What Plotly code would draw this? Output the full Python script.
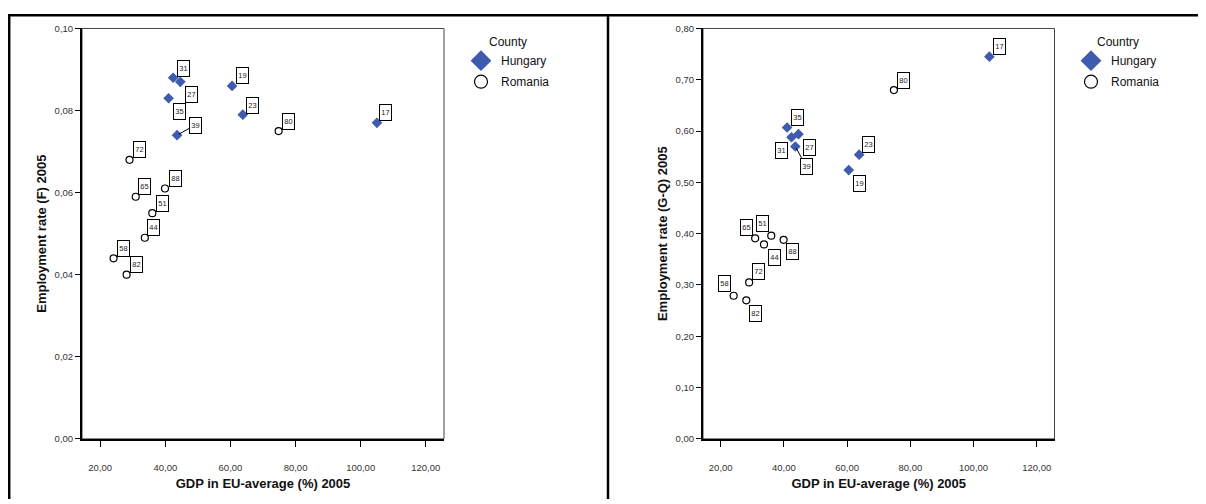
import plotly.graph_objects as go

# ---------------- data ----------------
hu_ids = ["31", "27", "35", "39", "19", "23", "17"]
hu_gdp = [42.4, 44.6, 41.0, 43.6, 60.5, 63.8, 105.0]
hu_emp_f = [0.088, 0.087, 0.083, 0.074, 0.086, 0.079, 0.077]
hu_emp_gq = [0.588, 0.594, 0.607, 0.570, 0.524, 0.554, 0.745]

ro_ids = ["80", "72", "65", "88", "51", "44", "58", "82"]
ro_gdp = [74.8, 29.0, 30.9, 39.9, 36.0, 33.7, 24.1, 28.1]
ro_emp_f = [0.075, 0.068, 0.059, 0.061, 0.055, 0.049, 0.044, 0.040]
ro_emp_gq = [0.680, 0.305, 0.391, 0.388, 0.396, 0.379, 0.279, 0.270]

x_ticks = [20, 40, 60, 80, 100, 120]
left_y_ticks = [0.0, 0.02, 0.04, 0.06, 0.08, 0.10]
right_y_ticks = [0.0, 0.1, 0.2, 0.3, 0.4, 0.5, 0.6, 0.7, 0.8]

x_title = "GDP in EU-average (%) 2005"
left_y_title = "Employment rate (F) 2005"
right_y_title = "Employment rate (G-Q) 2005"
left_legend_title = "County"
right_legend_title = "Country"
series_names = ["Hungary", "Romania"]

# ---------------- styles ----------------
HU_COLOR = "#3E5BB0"
FONT = "Liberation Sans, Arial, sans-serif"
OFF = 8  # page body margin of the browser

# label box offsets in pixels (dx right, dy down), flag for leader line
left_offsets = {
    "31": (10, -9, False), "27": (11, 13, False), "35": (11, 13, False),
    "39": (18, -10, True), "19": (10, -10, False), "23": (10, -9, False),
    "17": (9, -10, False), "80": (10, -10, False), "72": (10, -10, False),
    "65": (9, -10, False), "88": (10, -10, False), "51": (10, -10, False),
    "44": (9, -10, False), "58": (10, -10, False), "82": (10, -10, False),
}
right_offsets = {
    "17": (10, -10, False), "80": (10, -10, False), "35": (10, -10, False),
    "31": (-10, 13, False), "27": (11, 13, False), "39": (11, 20, True),
    "23": (9, -10, False), "19": (11, 13, False), "65": (-9, -11, False),
    "51": (-9, -12, False), "44": (10, 13, False), "88": (9, 12, False),
    "72": (9, -11, False), "58": (-9, -12, False), "82": (9, 13, False),
}

fig = go.Figure()

def add_panel(xa, ya, hu_y, ro_y, legend_name):
    fig.add_trace(go.Scatter(
        x=hu_gdp, y=hu_y, mode="markers", xaxis=xa, yaxis=ya, showlegend=False,
        marker=dict(symbol="diamond", size=8.2, color=HU_COLOR, line=dict(width=0)),
        name=series_names[0]))
    fig.add_trace(go.Scatter(
        x=ro_gdp, y=ro_y, mode="markers", xaxis=xa, yaxis=ya, showlegend=False,
        marker=dict(symbol="circle", size=7, color="white", line=dict(width=1.2, color="black")),
        name=series_names[1]))
    # legend entries with larger symbols
    fig.add_trace(go.Scatter(
        x=[None], y=[None], mode="markers", xaxis=xa, yaxis=ya, legend=legend_name,
        legendgroup=legend_name + "hu",
        marker=dict(symbol="diamond", size=16, color=HU_COLOR, line=dict(width=0)),
        name=series_names[0]))
    fig.add_trace(go.Scatter(
        x=[None], y=[None], mode="markers", xaxis=xa, yaxis=ya, legend=legend_name,
        legendgroup=legend_name + "ro",
        marker=dict(symbol="circle", size=13, color="white", line=dict(width=1.2, color="black")),
        name=series_names[1]))

add_panel("x", "y", hu_emp_f, ro_emp_f, "legend")
add_panel("x2", "y2", hu_emp_gq, ro_emp_gq, "legend2")

def add_labels(xa, ya, ids, xs, ys, offsets):
    for i, lab in enumerate(ids):
        dx, dy, arrow = offsets[lab]
        common = dict(
            x=xs[i], y=ys[i], xref=xa, yref=ya, text=lab,
            font=dict(family=FONT, size=7.5, color="#222"),
            bgcolor="white", bordercolor="black", borderwidth=1, borderpad=1,
            width=9, height=13, align="center", valign="middle",
        )
        if arrow:
            fig.add_annotation(**common, showarrow=True, ax=dx, ay=dy,
                               arrowhead=0, arrowwidth=1, arrowcolor="black", standoff=2)
        else:
            fig.add_annotation(**common, showarrow=False, xshift=dx, yshift=-dy)

add_labels("x", "y", hu_ids, hu_gdp, hu_emp_f, left_offsets)
add_labels("x", "y", ro_ids, ro_gdp, ro_emp_f, left_offsets)
add_labels("x2", "y2", hu_ids, hu_gdp, hu_emp_gq, right_offsets)
add_labels("x2", "y2", ro_ids, ro_gdp, ro_emp_gq, right_offsets)

W, H = 1206 - OFF, 504 - OFF

def px_x(sx):
    return (sx - OFF) / W

def px_y(sy):
    return (H - (sy - OFF)) / H

ydom = [px_y(442.5), px_y(22.8)]
TITLE_FONT = dict(family=FONT, size=13, color="#111")
TICK_FONT = dict(family=FONT, size=9.5, color="#333")

xaxis_common = dict(
    range=[14.4, 125.6], tickvals=x_ticks, tickformat=".2f",
    showgrid=False, zeroline=False, showline=True, linecolor="black", linewidth=2,
    ticks="outside", ticklen=6, tickwidth=1.3, tickcolor="black",
    ticklabelstandoff=13,
    tickfont=TICK_FONT,
    title=dict(text="<b>" + x_title + "</b>", font=TITLE_FONT, standoff=7),
)
yaxis_common = dict(
    showgrid=False, zeroline=False, showline=True, linecolor="black", linewidth=2,
    ticks="outside", ticklen=5, tickwidth=1.3, tickcolor="black", tickformat=".2f",
    tickfont=TICK_FONT,
)

LEG_FONT = dict(family=FONT, size=12, color="#111")

fig.update_layout(
    width=W, height=H, margin=dict(l=0, r=0, t=0, b=0),
    paper_bgcolor="white", plot_bgcolor="white",
    separators=",.",
    font=dict(family=FONT),
    xaxis=dict(domain=[px_x(82), px_x(444)], anchor="y", **xaxis_common),
    yaxis=dict(domain=ydom, anchor="x", range=[0, 0.10], tickvals=left_y_ticks,
               title=dict(text="<b>" + left_y_title + "</b>", font=TITLE_FONT, standoff=5),
               **yaxis_common),
    xaxis2=dict(domain=[px_x(703), px_x(1054.5)], anchor="y2", **xaxis_common),
    yaxis2=dict(domain=ydom, anchor="x2", range=[0, 0.80], tickvals=right_y_ticks,
                title=dict(text="<b>" + right_y_title + "</b>", font=TITLE_FONT, standoff=5),
                **yaxis_common),
    legend=dict(x=px_x(461), y=px_y(25), xanchor="left", yanchor="top",
                title=dict(text=left_legend_title, side="top center", font=LEG_FONT),
                font=LEG_FONT,
                itemsizing="trace", itemwidth=30, tracegroupgap=2, bgcolor="rgba(0,0,0,0)"),
    legend2=dict(x=px_x(1071), y=px_y(25), xanchor="left", yanchor="top",
                 title=dict(text=right_legend_title, side="top center", font=LEG_FONT),
                 font=LEG_FONT,
                 itemsizing="trace", itemwidth=30, tracegroupgap=2, bgcolor="rgba(0,0,0,0)"),
)

# plot-area frames (thin top/right lines)
for xr, yr in (("x domain", "y domain"), ("x2 domain", "y2 domain")):
    fig.add_shape(type="rect", xref=xr, yref=yr, x0=0, x1=1, y0=0, y1=1,
                  line=dict(color="#444", width=1), layer="below")

# outer panel borders
top_y = px_y(9.2)
fig.add_shape(type="line", xref="paper", yref="paper", x0=0, x1=1, y0=top_y, y1=top_y,
              line=dict(color="black", width=2.5))
for sx in (9.2, 608):
    fig.add_shape(type="line", xref="paper", yref="paper", x0=px_x(sx), x1=px_x(sx), y0=0, y1=top_y,
                  line=dict(color="black", width=2.5))

fig.write_html("out.html")
